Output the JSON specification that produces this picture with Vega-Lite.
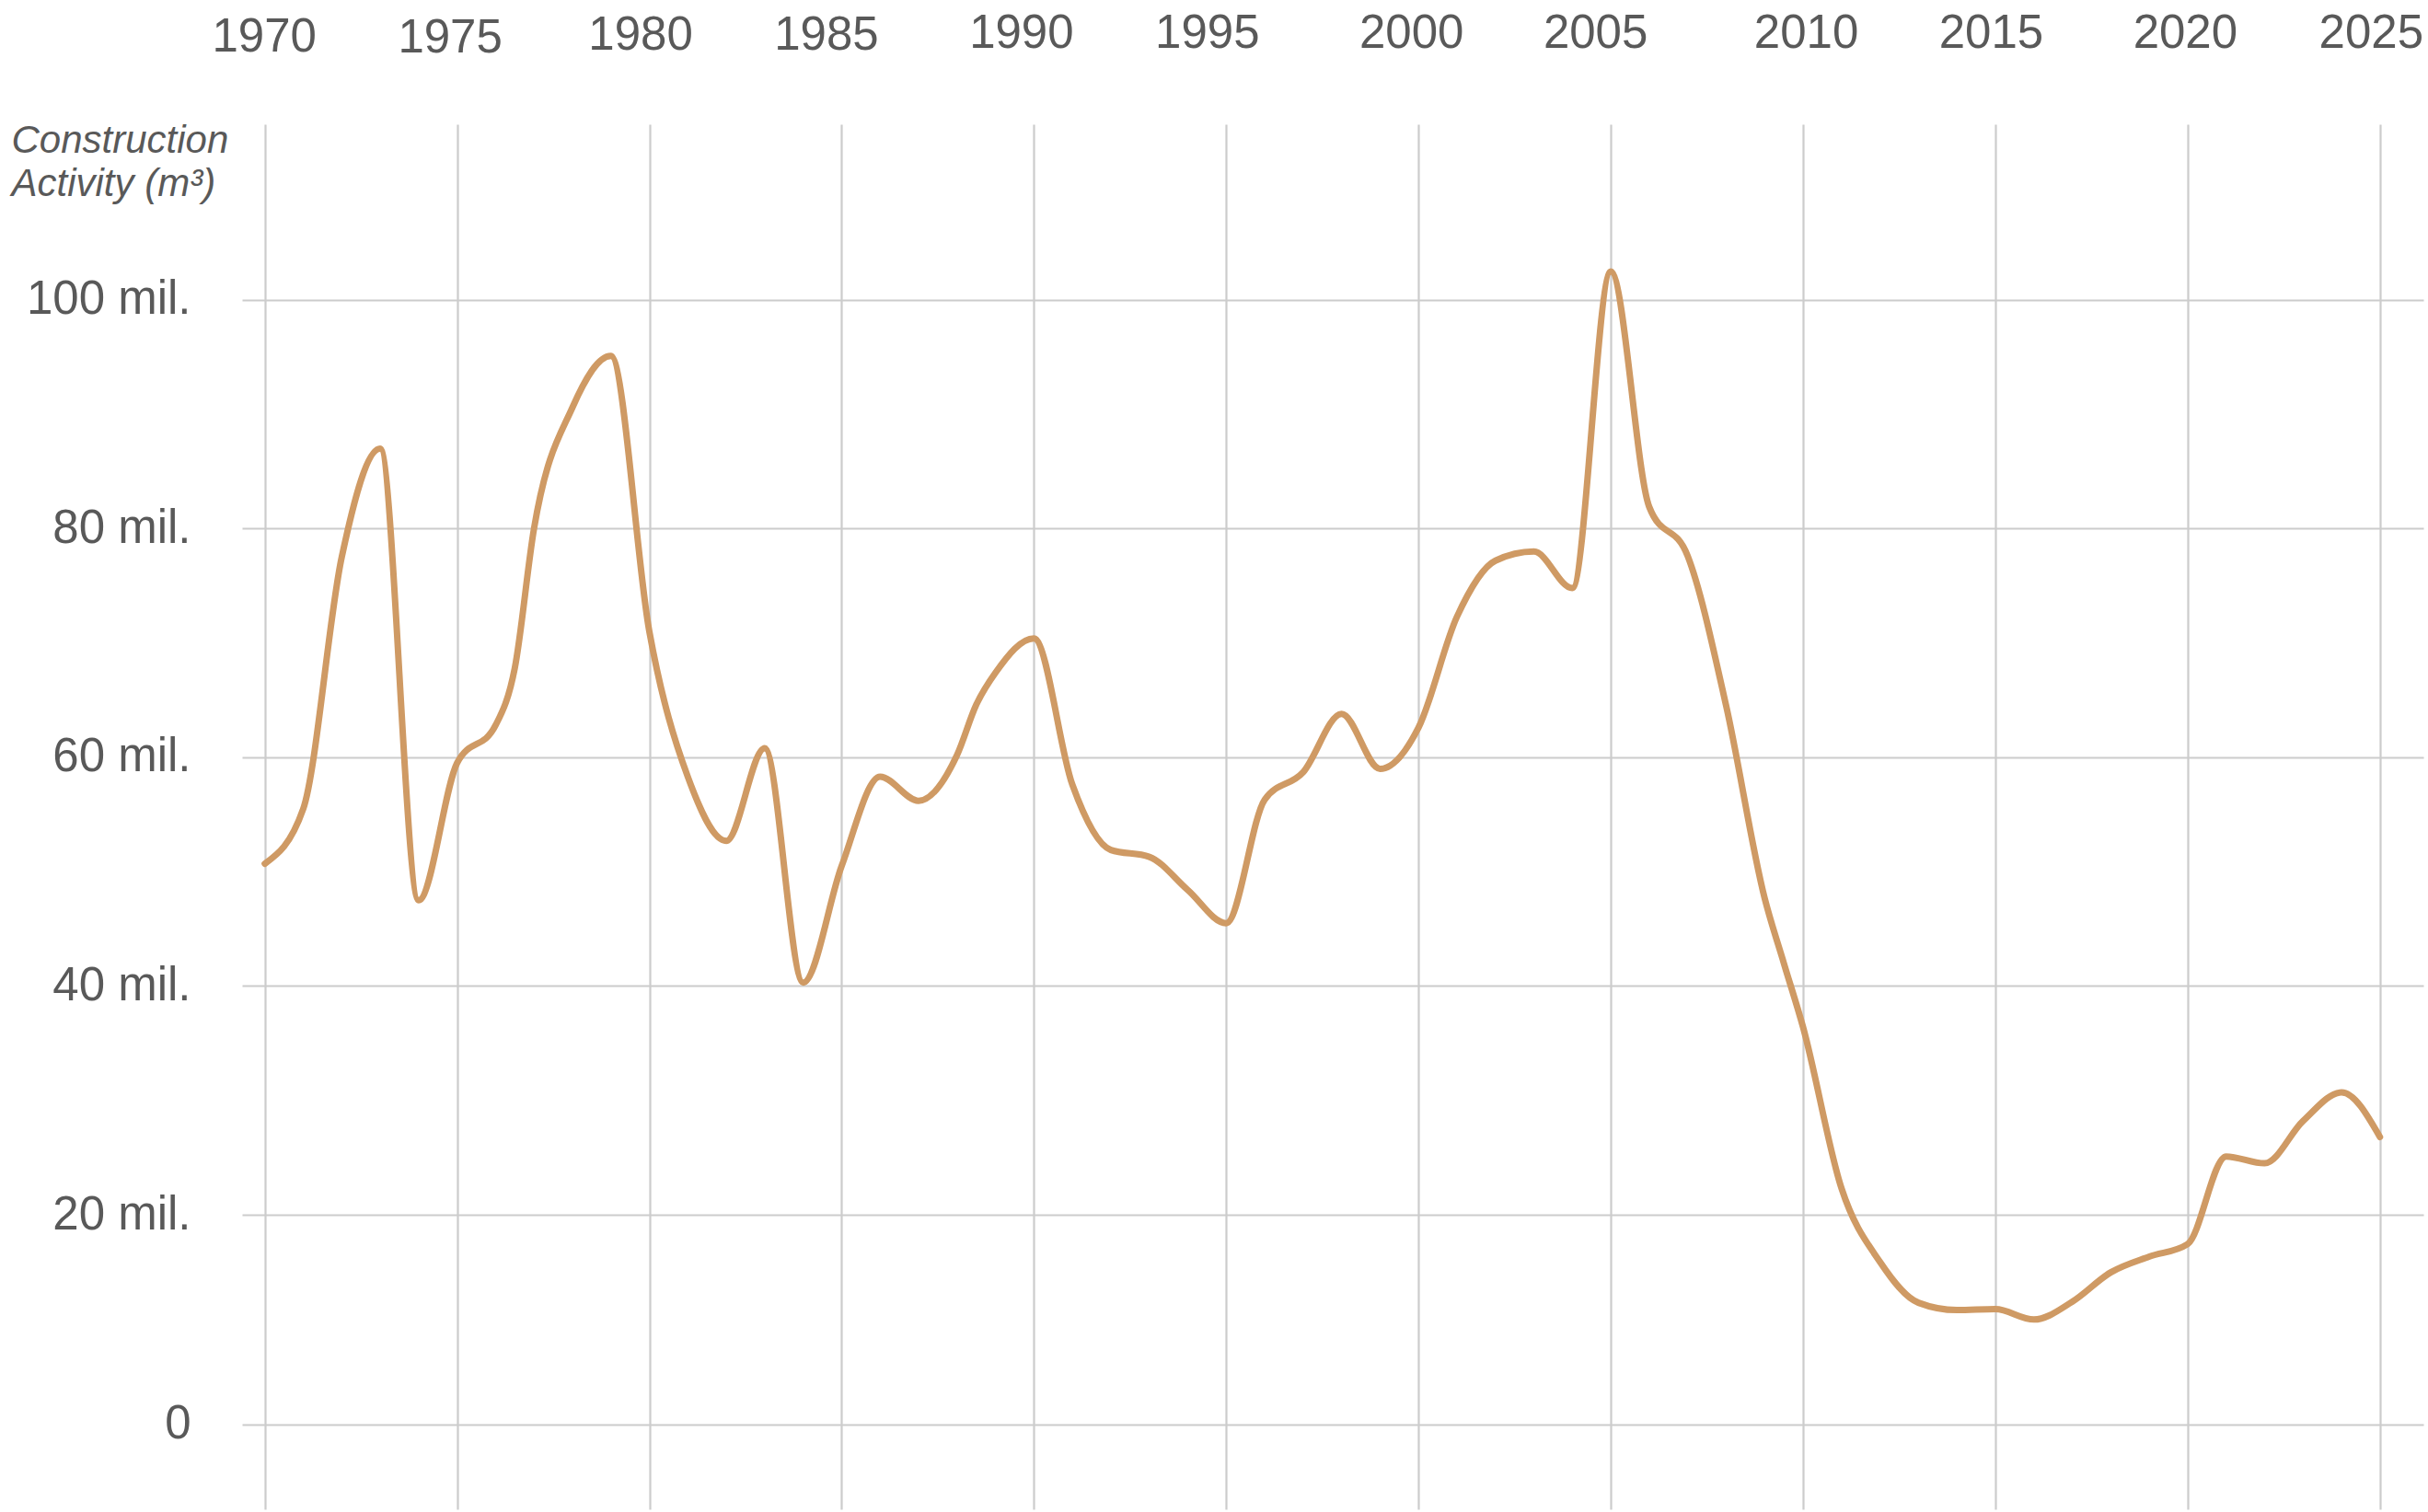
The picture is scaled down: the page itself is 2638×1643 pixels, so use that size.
{
  "$schema": "https://vega.github.io/schema/vega-lite/v6.json",
  "autosize": "none",
  "width": 2370,
  "height": 1505,
  "padding": {"left": 263, "top": 135, "right": 5, "bottom": 3},
  "background": "#ffffff",
  "config": {"view": {"stroke": null}},
  "data": {
    "values": [
      {"year": 1970, "activity": 50.7},
      {"year": 1971, "activity": 55.5},
      {"year": 1972, "activity": 77.5},
      {"year": 1973, "activity": 87.0},
      {"year": 1974, "activity": 47.5},
      {"year": 1975, "activity": 59.5},
      {"year": 1976, "activity": 62.8},
      {"year": 1976.5, "activity": 67.8},
      {"year": 1977, "activity": 80.0},
      {"year": 1978, "activity": 90.6},
      {"year": 1979, "activity": 95.1},
      {"year": 1980, "activity": 71.0},
      {"year": 1981, "activity": 58.3},
      {"year": 1982, "activity": 52.7},
      {"year": 1983, "activity": 60.8},
      {"year": 1984, "activity": 40.3},
      {"year": 1985, "activity": 50.5},
      {"year": 1986, "activity": 58.3},
      {"year": 1987, "activity": 56.2},
      {"year": 1988, "activity": 60.2},
      {"year": 1988.5, "activity": 64.6},
      {"year": 1989, "activity": 67.4},
      {"year": 1990, "activity": 70.4},
      {"year": 1991, "activity": 57.6},
      {"year": 1992, "activity": 51.9},
      {"year": 1993, "activity": 51.3},
      {"year": 1994, "activity": 48.4},
      {"year": 1995, "activity": 45.5},
      {"year": 1996, "activity": 56.3},
      {"year": 1997, "activity": 58.7},
      {"year": 1998, "activity": 63.8},
      {"year": 1999, "activity": 59.0},
      {"year": 2000, "activity": 62.6},
      {"year": 2001, "activity": 72.3},
      {"year": 2002, "activity": 77.2},
      {"year": 2003, "activity": 78.0},
      {"year": 2004, "activity": 74.8},
      {"year": 2005, "activity": 102.5},
      {"year": 2006, "activity": 81.9},
      {"year": 2007, "activity": 77.6},
      {"year": 2008, "activity": 64.5},
      {"year": 2009, "activity": 47.7},
      {"year": 2009.5, "activity": 42.0},
      {"year": 2010, "activity": 36.4},
      {"year": 2011, "activity": 22.3},
      {"year": 2012, "activity": 15.5},
      {"year": 2013, "activity": 11.6},
      {"year": 2014, "activity": 10.9},
      {"year": 2015, "activity": 11.0},
      {"year": 2016, "activity": 10.0},
      {"year": 2017, "activity": 11.7},
      {"year": 2018, "activity": 14.5},
      {"year": 2019, "activity": 16.0},
      {"year": 2020, "activity": 17.2},
      {"year": 2021, "activity": 25.1},
      {"year": 2022, "activity": 24.5},
      {"year": 2023, "activity": 28.2},
      {"year": 2024, "activity": 30.7},
      {"year": 2025, "activity": 26.8}
    ]
  },
  "mark": {
    "type": "line",
    "interpolate": "monotone",
    "color": "#cf9a64",
    "strokeWidth": 7,
    "strokeCap": "round",
    "strokeJoin": "round"
  },
  "encoding": {
    "x": {
      "field": "year",
      "type": "quantitative",
      "scale": {"domain": [1969.409, 2026.13], "nice": false, "zero": false},
      "axis": {
        "orient": "top",
        "title": null,
        "values": [1970, 1975, 1980, 1985, 1990, 1995, 2000, 2005, 2010, 2015, 2020, 2025],
        "format": "d",
        "grid": true,
        "gridColor": "#cccccc",
        "gridWidth": 2.2,
        "domain": false,
        "ticks": false,
        "tickSize": 0,
        "labelPadding": {
          "condition": [
            {"test": "datum.value == 1970", "value": 80},
            {"test": "datum.value == 1975", "value": 79},
            {"test": "datum.value == 1980", "value": 82},
            {"test": "datum.value == 1985", "value": 82}
          ],
          "value": 84
        },
        "labelBaseline": "alphabetic",
        "labelFont": "Liberation Sans",
        "labelFontSize": 51,
        "labelColor": "#595959",
        "labelFlush": false,
        "labelOverlap": false,
        "labelBound": false,
        "labelOffset": {
          "condition": [
            {"test": "datum.value == 1975", "value": -8},
            {"test": "datum.value == 1980", "value": -10},
            {"test": "datum.value == 1985", "value": -17},
            {"test": "datum.value == 1990", "value": -14},
            {"test": "datum.value == 1995", "value": -21},
            {"test": "datum.value == 2000", "value": -8},
            {"test": "datum.value == 2005", "value": -17},
            {"test": "datum.value == 2010", "value": 3},
            {"test": "datum.value == 2015", "value": -5},
            {"test": "datum.value == 2020", "value": -3},
            {"test": "datum.value == 2025", "value": -10}
          ],
          "value": -1
        }
      }
    },
    "y": {
      "field": "activity",
      "type": "quantitative",
      "scale": {
        "domain": [-8.11, 0, 20, 115.37],
        "range": [1505, 1412.7, 1185, 0],
        "nice": false,
        "zero": false
      },
      "axis": {
        "title": ["Construction", "Activity (m³)"],
        "titleAngle": 0,
        "titleAlign": "left",
        "titleBaseline": "alphabetic",
        "titleX": -251,
        "titleY": 30,
        "titleLineHeight": 47,
        "titleFont": "Liberation Sans",
        "titleFontSize": 42,
        "titleFontStyle": "italic",
        "titleFontWeight": "normal",
        "titleColor": "#595959",
        "values": [0, 20, 40, 60, 80, 100],
        "labelExpr": "datum.value == 0 ? '0' : datum.value + ' mil.'",
        "grid": true,
        "gridColor": "#cccccc",
        "gridWidth": 2.2,
        "domain": false,
        "ticks": false,
        "tickSize": 0,
        "labelPadding": 56,
        "labelBaseline": "middle",
        "labelFont": "Liberation Sans",
        "labelFontSize": 51,
        "labelColor": "#595959",
        "labelOverlap": false,
        "labelBound": false
      }
    }
  }
}
